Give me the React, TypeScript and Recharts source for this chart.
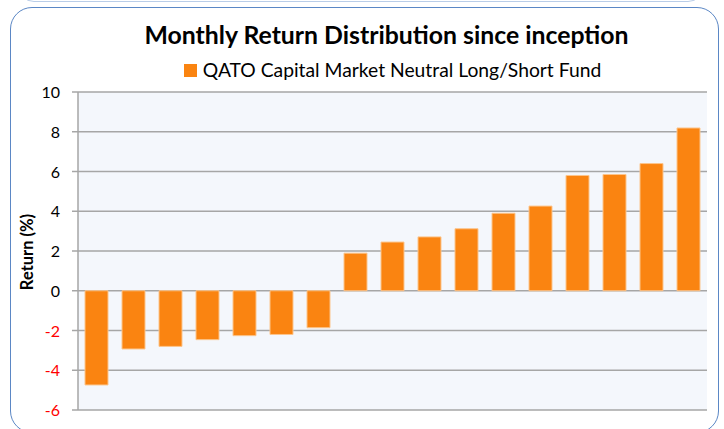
import React from 'react';
import { BarChart, Bar, XAxis, YAxis, CartesianGrid } from 'recharts';

const months = ['1', '2', '3', '4', '5', '6', '7', '8', '9', '10', '11', '12', '13', '14', '15', '16', '17'];
const returns = [-4.74, -2.93, -2.8, -2.46, -2.26, -2.2, -1.86, 1.89, 2.45, 2.71, 3.12, 3.9, 4.26, 5.8, 5.85, 6.4, 8.19];
const yTicks = [-6, -4, -2, 0, 2, 4, 6, 8, 10];
const seriesName = 'QATO Capital Market Neutral Long/Short Fund';
const title = 'Monthly Return Distribution since inception';

const data = months.map((m, i) => ({ month: m, value: returns[i] }));

const FONT = 'Lato, "Open Sans", sans-serif';

const YTick = (props: any) => {
  const { x, y, payload } = props;
  const v = payload.value as number;
  return (
    <text x={x} y={y} dy={6} textAnchor="end" fontSize={16} fontFamily={FONT} fill={v < 0 ? '#ff0000' : '#000000'}>
      {v}
    </text>
  );
};

export default function App() {
  return (
    <div style={{ position: 'absolute', left: 0, top: 0, width: 724, height: 429, overflow: 'hidden', background: '#ffffff', fontFamily: FONT }}>
      <div style={{ position: 'absolute', left: 18, top: -30, width: 686, height: 32, border: '1px solid #b9cde8', borderRadius: 16, boxSizing: 'border-box' }} />
      <div style={{ position: 'absolute', left: 10, top: 7, width: 709, height: 426, border: '1.5px solid #5b87c5', borderRadius: 22, boxSizing: 'border-box' }} />
      <div style={{ position: 'absolute', left: 72, top: 20, width: 629, height: 30, lineHeight: '30px', textAlign: 'center', fontSize: 24.8, fontWeight: 700, color: '#000', whiteSpace: 'nowrap' }}>
        {title}
      </div>
      <div style={{ position: 'absolute', left: 78, top: 58, width: 629, height: 24, lineHeight: '24px', textAlign: 'center', fontSize: 19.3, color: '#000', whiteSpace: 'nowrap' }}>
        <span style={{ display: 'inline-block', width: 13, height: 13, background: '#fa8411', marginRight: 6, verticalAlign: '0px' }} />
        {seriesName}
      </div>
      <div style={{ position: 'absolute', left: 27, top: 252, width: 0, height: 0 }}>
        <div style={{ position: 'absolute', left: -60, top: -11, width: 120, height: 22, lineHeight: '22px', textAlign: 'center', transform: 'rotate(-90deg)', fontSize: 16.5, fontWeight: 700, color: '#000' }}>
          Return (%)
        </div>
      </div>
      <div style={{ position: 'absolute', left: 0, top: 0 }}>
        <BarChart width={724} height={429} data={data} margin={{ top: 92, right: 17, bottom: 19, left: 18 }}>
          <CartesianGrid vertical={false} stroke="#a6a6a6" strokeWidth={1.5} fill="#f4f7fc" />
          <XAxis dataKey="month" tick={false} height={0} axisLine={{ stroke: '#a6a6a6', strokeWidth: 1.5 }} tickLine={false} />
          <YAxis
            domain={[-6, 10]}
            ticks={yTicks}
            interval={0}
            width={60}
            tick={<YTick />}
            tickSize={6}
            tickMargin={12}
            axisLine={{ stroke: '#a6a6a6', strokeWidth: 1.5 }}
            tickLine={{ stroke: '#a6a6a6', strokeWidth: 1.5 }}
          />
          <Bar dataKey="value" name={seriesName} fill="#fa8411" stroke="#fcc58c" strokeWidth={1} barSize={23} isAnimationActive={false} />
        </BarChart>
      </div>
    </div>
  );
}
